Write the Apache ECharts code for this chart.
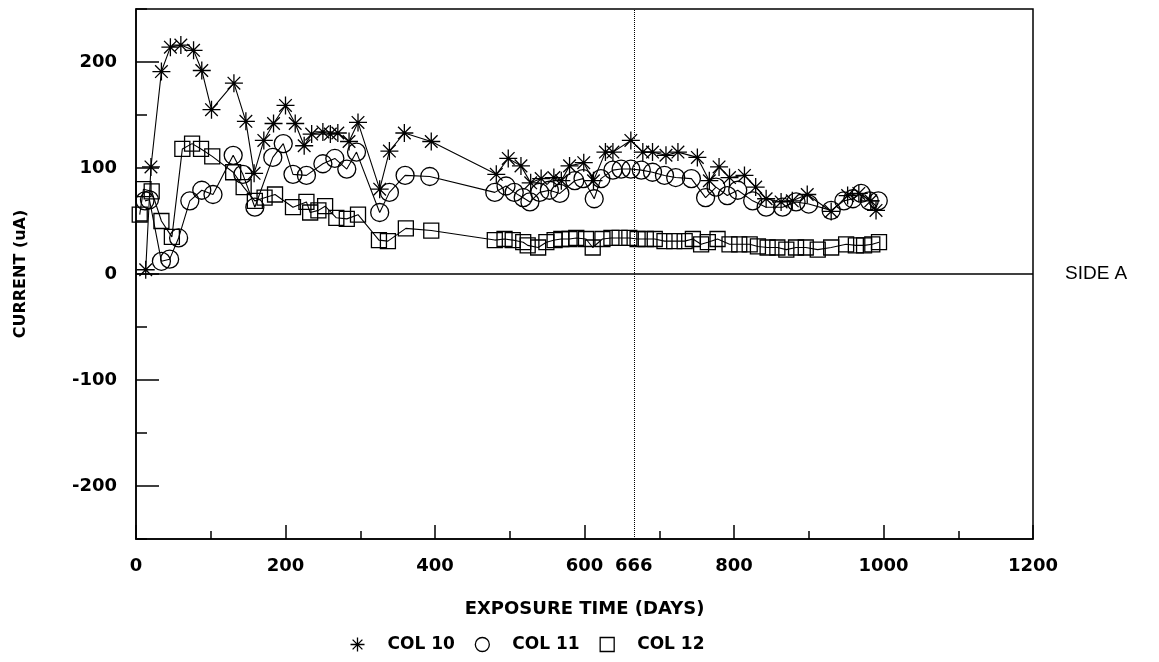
<!DOCTYPE html>
<html>
<head>
<meta charset="utf-8">
<script src="https://cdn.jsdelivr.net/npm/echarts@6/dist/echarts.min.js"></script>
<style>
  html, body { margin: 0; padding: 0; background: #fff; }
  #chart { width: 1159px; height: 662px; }
</style>
</head>
<body>
<div id="chart"></div>
<script>
// Exposure time (days) and current (uA) for each column
const days10 = [13,20,34,46,60,77,88,101,131,147,158,171,184,200,213,225,235,250,260,270,285,297,326,339,359,395,482,498,515,528,542,559,569,580,599,612,628,638,662,678,691,709,725,751,767,780,794,814,829,843,863,878,898,930,952,967,983,990];
const col10  = [4,101,191,214,216,211,192,155,180,144,95,126,142,159,142,121,132,134,132,133,125,143,80,116,133,125,94,109,102,86,90,91,88,102,105,88,115,115,126,115,115,112,115,110,88,101,91,93,82,71,68,69,75,59,74,76,69,60];

const days11 = [12,18,34,45,57,72,88,103,130,143,159,183,197,210,228,250,266,282,295,326,339,360,393,480,495,506,518,527,540,553,567,587,598,613,622,638,649,662,676,691,707,722,743,762,776,791,805,825,843,865,883,900,930,947,959,970,981,993];
const col11  = [69,70,12,14,34,69,79,75,112,94,63,110,123,94,93,104,109,99,115,58,77,93,92,77,83,77,72,68,77,79,76,88,90,71,90,98,99,99,98,96,93,91,90,72,82,74,79,69,63,63,68,66,60,69,71,76,69,69];

const days12 = [5,10,21,34,48,62,75,87,102,130,144,159,172,186,210,228,233,244,253,268,282,297,325,337,361,395,480,493,504,518,524,538,549,560,569,580,589,602,611,624,636,647,660,671,682,694,707,720,734,745,756,765,778,794,807,821,832,845,858,870,883,896,912,930,950,963,974,985,994];
const col12  = [56,80,78,50,35,118,123,118,111,96,82,69,72,75,63,68,58,60,64,53,52,56,32,31,43,41,32,33,32,30,27,25,30,32,33,33,34,33,25,33,34,34,34,33,33,33,31,31,31,33,28,30,33,28,28,28,26,25,25,23,25,25,23,25,28,27,27,28,30];

const seriesNames = ['COL 10', 'COL 11', 'COL 12'];
const xLabels = [0, 200, 400, 600, 666, 800, 1000, 1200];
const yMajorTicks = [-200, -100, 0, 100, 200];
const markerDay = 666;

const FONT = '"DejaVu Sans", sans-serif';
const PLAIN = '"Liberation Sans", Arial, sans-serif';
const STAR = 'path://M10,0L10,20M0,10L20,10M3,3L17,17M3,17L17,3';

const zip = (xs, ys) => xs.map((x, i) => [x, ys[i]]);

const markStyle = { color: 'none', borderColor: '#000', borderWidth: 1.3 };
const lineStyle = { color: '#000', width: 1.1 };
const blackLine = { color: '#000', width: 1.5 };

const chart = echarts.init(document.getElementById('chart'), null, { renderer: 'canvas' });

chart.setOption({
  animation: false,
  backgroundColor: '#fff',
  grid: {
    left: 136, right: 126, top: 9, bottom: 123,
    show: true, borderColor: '#000', borderWidth: 1.5, backgroundColor: 'transparent'
  },
  xAxis: {
    type: 'value', min: 0, max: 1200, interval: 200,
    name: 'EXPOSURE TIME (DAYS)', nameLocation: 'middle', nameGap: 61,
    nameTextStyle: { fontFamily: FONT, fontWeight: 'bold', fontSize: 18, color: '#000' },
    axisLine: { onZero: false, lineStyle: blackLine },
    axisTick: { inside: true, length: 14, lineStyle: blackLine },
    minorTick: { show: true, splitNumber: 2, length: 8, lineStyle: blackLine },
    axisLabel: {
      customValues: xLabels, margin: 18,
      fontFamily: FONT, fontWeight: 'bold', fontSize: 18, color: '#000',
      formatter: v => String(v)
    },
    splitLine: { show: false }
  },
  yAxis: [
    {
      type: 'value', min: -250, max: 250, interval: 50,
      name: 'CURRENT (uA)', nameLocation: 'middle', nameGap: 107,
      nameTextStyle: { fontFamily: FONT, fontWeight: 'bold', fontSize: 16, color: '#000' },
      axisLine: { onZero: false, lineStyle: blackLine },
      axisTick: { inside: true, length: 11, lineStyle: blackLine },
      axisLabel: {
        margin: 19, fontFamily: FONT, fontWeight: 'bold', fontSize: 18, color: '#000',
        formatter: v => (v % 100 === 0 ? String(v) : '')
      },
      splitLine: { show: false }
    },
    {
      type: 'value', min: -250, max: 250, interval: 50, position: 'left',
      axisLine: { show: false },
      axisTick: { inside: true, length: 23, customValues: yMajorTicks, lineStyle: blackLine },
      axisLabel: { show: false },
      splitLine: { show: false }
    }
  ],
  legend: {
    left: 343, top: 630,
    itemWidth: 14, itemHeight: 14, itemGap: 18,
    itemStyle: { color: 'none', borderColor: '#000', borderWidth: 1.3 },
    textStyle: { fontFamily: FONT, fontWeight: 'bold', fontSize: 17, color: '#000', padding: [0, 0, 0, 18] },
    data: [
      { name: seriesNames[0], icon: STAR },
      { name: seriesNames[1], icon: 'circle' },
      { name: seriesNames[2], icon: 'rect' }
    ]
  },
  series: [
    {
      name: seriesNames[0], type: 'line', data: zip(days10, col10),
      symbol: STAR, symbolSize: 18, itemStyle: markStyle, lineStyle
    },
    {
      name: seriesNames[1], type: 'line', data: zip(days11, col11),
      symbol: 'circle', symbolSize: 18, itemStyle: markStyle, lineStyle
    },
    {
      name: seriesNames[2], type: 'line', data: zip(days12, col12),
      symbol: 'rect', symbolSize: 15, itemStyle: markStyle, lineStyle,
      markLine: {
        silent: true, symbol: 'none', animation: false,
        data: [
          {
            yAxis: 0,
            lineStyle: { type: 'solid', color: '#000', width: 1.5 },
            label: {
              show: true, position: 'end', distance: 32, formatter: 'SIDE A',
              fontFamily: PLAIN, fontSize: 19, color: '#000'
            }
          },
          {
            xAxis: markerDay,
            lineStyle: { type: 'dotted', color: '#000', width: 1 },
            label: { show: false }
          }
        ]
      }
    }
  ]
});
</script>
</body>
</html>
